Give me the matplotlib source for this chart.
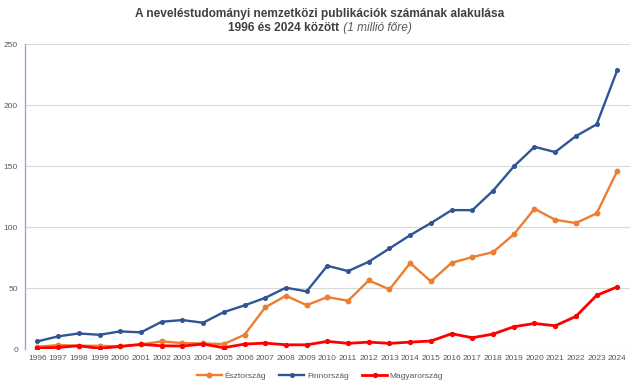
import matplotlib

matplotlib.use("Agg")
import matplotlib.pyplot as plt

plt.rcParams["font.family"] = ["Liberation Sans", "DejaVu Sans"]

YEARS = list(range(1996, 2025))

# Észtország
ESTONIA = [1.9, 3.3, 2.7, 2.7, 2.2, 3.8, 6.3, 4.9, 4.6, 4.1,
           11.7, 34.2, 43.7, 36.0, 42.6, 39.6, 56.3, 48.9, 70.5, 55.5,
           70.7, 75.4, 79.5, 94.0, 115.0, 106.0, 103.3, 111.2, 146.2]
# Finnország
FINLAND = [6.3, 10.4, 12.8, 11.7, 14.5, 13.7, 22.4, 23.8, 21.6, 30.3,
           35.8, 42.0, 50.3, 47.3, 68.3, 63.9, 71.6, 82.5, 93.4, 103.3,
           113.9, 113.9, 129.8, 149.7, 165.8, 161.5, 174.6, 184.2, 228.7]
# Magyarország
HUNGARY = [0.8, 1.4, 2.7, 0.5, 2.2, 3.8, 2.7, 2.5, 4.1, 1.1,
           4.1, 4.9, 3.5, 3.5, 6.3, 4.7, 5.7, 4.7, 5.7, 6.6,
           12.6, 9.3, 12.3, 18.3, 21.0, 19.1, 26.8, 44.0, 51.0]

Y_TICKS = [0, 50, 100, 150, 200, 250]

TITLE_1 = "A neveléstudományi nemzetközi publikációk számának alakulása"
TITLE_2A = "1996 és 2024 között"
TITLE_2B = " (1 millió főre)"

fig = plt.figure(figsize=(6.4, 3.87), dpi=100)
ax = fig.add_axes([0.039, 0.098, 0.945, 0.788])

ax.plot(YEARS, ESTONIA, color="#ED7D31", lw=1.7, marker="o", ms=3.2, label="Észtország")
ax.plot(YEARS, FINLAND, color="#2F5597", lw=1.7, marker="o", ms=2.6, label="Finnország")
ax.plot(YEARS, HUNGARY, color="#FF0000", lw=2.0, marker="o", ms=2.8, label="Magyarország")

ax.set_xlim(1995.4, 2024.6)
ax.set_ylim(0, 250)
ax.set_yticks(Y_TICKS)
ax.set_xticks(YEARS)
ax.set_xticklabels([str(y) for y in YEARS])
ax.yaxis.grid(True, color="#D9D9D9", lw=0.8)
ax.set_axisbelow(True)
for side in ("top", "right", "bottom"):
    ax.spines[side].set_visible(False)
ax.spines["left"].set_color("#8FAADC")
ax.spines["left"].set_linewidth(1.0)
ax.tick_params(axis="both", length=0, labelsize=6, colors="#595959")
ax.tick_params(axis="y", pad=5)
ax.tick_params(axis="x", pad=4)

leg = fig.legend(loc="center", bbox_to_anchor=(0.5, 0.028), ncol=3, frameon=False,
                 fontsize=6, handlelength=3.0, columnspacing=1.6, handletextpad=0.3)
for text in leg.get_texts():
    text.set_color("#595959")

fig.text(0.5, 0.965, TITLE_1, ha="center", va="center", fontsize=8.6, fontweight="bold", color="#404040")

# második sor: félkövér + dőlt rész egymás mellett
t_a = fig.text(0.5, 0.928, TITLE_2A, ha="left", va="center", fontsize=8.6, fontweight="bold", color="#404040")
t_b = fig.text(0.5, 0.928, TITLE_2B, ha="left", va="center", fontsize=8.6, style="italic", color="#595959")
fig.canvas.draw()
renderer = fig.canvas.get_renderer()
w_a = t_a.get_window_extent(renderer).width / fig.bbox.width
w_b = t_b.get_window_extent(renderer).width / fig.bbox.width
start = 0.5 - (w_a + w_b) / 2
t_a.set_x(start)
t_b.set_x(start + w_a)

fig.savefig("out.png", dpi=100)
